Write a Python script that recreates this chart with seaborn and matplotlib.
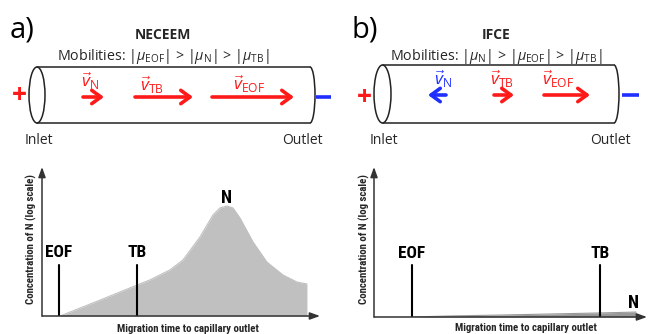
import matplotlib
matplotlib.use('Agg')
import matplotlib.pyplot as plt
import seaborn as sns
import numpy as np
import pandas as pd
from matplotlib import font_manager
from matplotlib.patches import Ellipse, Arc

# ---------------- data ----------------
neceem_time = [6.5, 20.9, 34.2, 38.8, 46.0, 50.7, 56.8, 61.5, 64.0, 66.5, 68.7, 71.2, 75.9, 80.9, 86.7, 91.7, 95.3]
neceem_conc = [0.0, 10.7, 20.8, 24.2, 30.9, 37.6, 53.0, 67.8, 72.5, 73.8, 72.5, 65.8, 49.7, 36.2, 27.5, 22.8, 21.5]
ifce_time = [13.9, 27.8, 46.2, 64.5, 82.8, 96.0]
ifce_conc = [0.0, 0.7, 1.3, 2.0, 2.7, 3.3]
neceem_marker_names = ['EOF', 'TB']
neceem_marker_times = [6.1, 34.2]
ifce_marker_names = ['EOF', 'TB']
ifce_marker_times = [13.9, 82.8]
marker_height = 34.5

# ---------------- fonts ----------------
sns.set_theme(style='white')
names = {f.name for f in font_manager.fontManager.ttflist}
def pick(*cands):
    for c in cands:
        if c in names:
            return c
    return 'DejaVu Sans'
TOP = pick('Open Sans', 'Lato', 'Noto Sans')
COND = pick('Liberation Sans Narrow', 'Roboto Condensed', 'Noto Sans Condensed', 'Open Sans Condensed', 'Roboto')
plt.rcParams['font.family'] = [TOP, 'DejaVu Sans']
plt.rcParams['mathtext.fontset'] = 'custom'
plt.rcParams['mathtext.rm'] = TOP
plt.rcParams['mathtext.it'] = TOP + ':italic'
plt.rcParams['mathtext.bf'] = TOP + ':bold'

W, H = 648, 334
fig = plt.figure(figsize=(W / 100, H / 100), dpi=100)
fig.patch.set_facecolor('white')
bg = fig.add_axes([0, 0, 1, 1])
bg.set_xlim(0, W)
bg.set_ylim(H, 0)
bg.axis('off')

RED = '#ff1a1a'
BLUE = '#1f2fff'
DARK = '#222222'

def cylinder(xl, xr, ytop, ybot, ew):
    yc = (ytop + ybot) / 2
    h = ybot - ytop
    bg.add_patch(Ellipse((xl, yc), ew, h, fill=False, ec=DARK, lw=1.1))
    bg.plot([xl, xr], [ytop, ytop], color=DARK, lw=1.1)
    bg.plot([xl, xr], [ybot, ybot], color=DARK, lw=1.1)
    bg.add_patch(Arc((xr, yc), 10, h, theta1=-90, theta2=90, ec=DARK, lw=1.1))

def arrow(x0, x1, y, color):
    bg.annotate('', xy=(x1, y), xytext=(x0, y),
                arrowprops=dict(arrowstyle='->,head_length=0.55,head_width=0.4',
                                color=color, lw=2.6, shrinkA=0, shrinkB=0))

# ---------------- top: panel a ----------------
bg.text(10, 30, 'a)', fontsize=21, ha='left', va='center', color='black')
bg.text(163, 35, 'NECEEM', fontsize=10, fontweight='bold', ha='center', va='center')
bg.text(163, 57, r'Mobilities: |$\mu_{\rm EOF}$| > |$\mu_{\rm N}$| > |$\mu_{\rm TB}$|',
        fontsize=10.3, ha='center', va='center')
cylinder(37, 310, 67, 123, 16)
bg.text(19, 96, '+', fontsize=19, fontweight='bold', color=RED, ha='center', va='center')
bg.plot([316, 331], [97, 97], color=BLUE, lw=2.6, solid_capstyle='butt')
arrow(83, 104, 97, RED)
arrow(135, 193, 97, RED)
arrow(212, 294, 97, RED)
bg.text(90, 81, r'$\vec{v}_{\rm N}$', fontsize=12.5, color=RED, ha='center', va='center')
bg.text(152, 85, r'$\vec{v}_{\rm TB}$', fontsize=12.5, color=RED, ha='center', va='center')
bg.text(249, 84, r'$\vec{v}_{\rm EOF}$', fontsize=12.5, color=RED, ha='center', va='center')
bg.text(39, 140, 'Inlet', fontsize=10, ha='center', va='center')
bg.text(302, 140, 'Outlet', fontsize=10, ha='center', va='center')

# ---------------- top: panel b ----------------
bg.text(352, 30, 'b)', fontsize=21, ha='left', va='center', color='black')
bg.text(496, 35, 'IFCE', fontsize=10, fontweight='bold', ha='center', va='center')
bg.text(496, 57, r'Mobilities: |$\mu_{\rm N}$| > |$\mu_{\rm EOF}$| > |$\mu_{\rm TB}$|',
        fontsize=10.3, ha='center', va='center')
cylinder(382.5, 614, 65, 123, 17)
bg.text(364, 97, '+', fontsize=19, fontweight='bold', color=RED, ha='center', va='center')
bg.plot([622, 639], [95, 95], color=BLUE, lw=2.6, solid_capstyle='butt')
arrow(446, 428, 95, BLUE)
arrow(494, 514, 95, RED)
arrow(544, 590, 95, RED)
bg.text(443, 79, r'$\vec{v}_{\rm N}$', fontsize=12.5, color=BLUE, ha='center', va='center')
bg.text(502, 79, r'$\vec{v}_{\rm TB}$', fontsize=12.5, color=RED, ha='center', va='center')
bg.text(558, 79, r'$\vec{v}_{\rm EOF}$', fontsize=12.5, color=RED, ha='center', va='center')
bg.text(384, 140, 'Inlet', fontsize=10, ha='center', va='center')
bg.text(610, 140, 'Outlet', fontsize=10, ha='center', va='center')

# ---------------- bottom plots ----------------
def plot_axes(left, right, top, bottom):
    return fig.add_axes([left / W, 1 - bottom / H, (right - left) / W, (bottom - top) / H])

def draw_plot(ax, t, c, fillc, mnames, mtimes, n_label_pos):
    ax.set_xlim(0, 100)
    ax.set_ylim(0, 100)
    ax.set_facecolor('none')
    for s in ax.spines.values():
        s.set_visible(False)
    ax.set_xticks([])
    ax.set_yticks([])
    df = pd.DataFrame({'time': t, 'conc': c})
    ax.fill_between(df['time'], 0, df['conc'], color=fillc, lw=0, zorder=1)
    sns.lineplot(data=df, x='time', y='conc', ax=ax, color=fillc, lw=0.8, zorder=2)
    ax.set_xlabel('')
    ax.set_ylabel('')
    for nm, tm in zip(mnames, mtimes):
        ax.plot([tm, tm], [0, marker_height], color='black', lw=1.5, zorder=3)
        ax.text(tm, marker_height + 8, nm, fontsize=12.5, fontweight='bold', family=[COND, 'DejaVu Sans'],
                ha='center', va='center', color='black')
    ax.text(n_label_pos[0], n_label_pos[1], 'N', fontsize=13, fontweight='bold', family=[COND, 'DejaVu Sans'],
            ha='center', va='center', color='black')
    ax.annotate('', xy=(1.0, 0), xytext=(0, 0), xycoords='axes fraction',
                arrowprops=dict(arrowstyle='-|>,head_length=0.5,head_width=0.18', color='#333333',
                                lw=1.1, shrinkA=0, shrinkB=0), annotation_clip=False)
    ax.annotate('', xy=(0, 1.0), xytext=(0, 0), xycoords='axes fraction',
                arrowprops=dict(arrowstyle='-|>,head_length=0.5,head_width=0.18', color='#333333',
                                lw=1.1, shrinkA=0, shrinkB=0), annotation_clip=False)

axL = plot_axes(42, 320, 167, 316)
draw_plot(axL, neceem_time, neceem_conc, '#c0c0c0', neceem_marker_names, neceem_marker_times,
          (66.2, 79.0))
axR = plot_axes(374, 647, 167, 317)
draw_plot(axR, ifce_time, ifce_conc, '#999999', ifce_marker_names, ifce_marker_times,
          (95.2, 9.3))

for (xc, yc) in [(31, 239), (364, 239)]:
    bg.text(xc, yc, 'Concentration of N (log scale)', rotation=90, fontsize=7.8, fontweight='bold',
            family=[COND, 'DejaVu Sans'], ha='center', va='center')
bg.text(188, 329, 'Migration time to capillary outlet', fontsize=7.8, fontweight='bold',
        family=[COND, 'DejaVu Sans'], ha='center', va='center')
bg.text(526, 328, 'Migration time to capillary outlet', fontsize=7.8, fontweight='bold',
        family=[COND, 'DejaVu Sans'], ha='center', va='center')

fig.savefig('out.png', dpi=100, facecolor='white')
